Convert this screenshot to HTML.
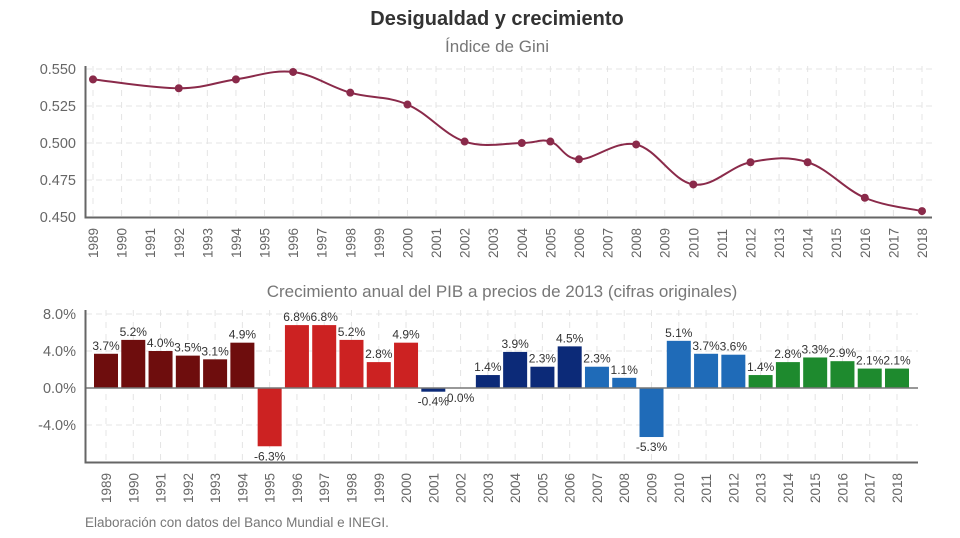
<!DOCTYPE html>
<html><head><meta charset="utf-8">
<style>
html,body{margin:0;padding:0;background:#fff;width:960px;height:538px;overflow:hidden}
svg text{font-family:"Liberation Sans",sans-serif}
</style></head>
<body>
<svg id="c" width="960" height="538">
<text x="497" y="25" text-anchor="middle" font-size="20" font-weight="bold" fill="#333">Desigualdad y crecimiento</text>
<text x="497" y="52" text-anchor="middle" font-size="17" fill="#777">Índice de Gini</text>
<text x="502" y="297" text-anchor="middle" font-size="17" fill="#777">Crecimiento anual del PIB a precios de 2013 (cifras originales)</text>
<text x="85" y="527" font-size="13.5" fill="#777">Elaboración con datos del Banco Mundial e INEGI.</text>
<g id="g1"></g><g id="g2"></g>
</svg>
<script>
const years=[];for(let y=1989;y<=2018;y++)years.push(y);
const giniYears=[1989,1992,1994,1996,1998,2000,2002,2004,2005,2006,2008,2010,2012,2014,2016,2018];
const giniValues=[0.543,0.537,0.543,0.548,0.534,0.526,0.501,0.500,0.501,0.489,0.499,0.472,0.487,0.487,0.463,0.454];
const giniTicks=[0.450,0.475,0.500,0.525,0.550];
const gdpValues=[3.7,5.2,4.0,3.5,3.1,4.9,-6.3,6.8,6.8,5.2,2.8,4.9,-0.4,0.0,1.4,3.9,2.3,4.5,2.3,1.1,-5.3,5.1,3.7,3.6,1.4,2.8,3.3,2.9,2.1,2.1];
const gdpLabels=["3.7%","5.2%","4.0%","3.5%","3.1%","4.9%","-6.3%","6.8%","6.8%","5.2%","2.8%","4.9%","-0.4%","0.0%","1.4%","3.9%","2.3%","4.5%","2.3%","1.1%","-5.3%","5.1%","3.7%","3.6%","1.4%","2.8%","3.3%","2.9%","2.1%","2.1%"];
const gdpTicks=[-4,0,4,8];
const NS="http://www.w3.org/2000/svg";
function mk(p,t,a,txt){const e=document.createElementNS(NS,t);for(const k in a)e.setAttribute(k,a[k]);if(txt!=null)e.textContent=txt;p.appendChild(e);return e;}
const g1=document.getElementById('g1');
const X1=y=>93+(y-1989)*(922-93)/29;
const Y1=v=>217-(v-0.45)*(217-69)/0.1;
for(const t of giniTicks){
 const l=mk(g1,'line',{x1:86,x2:932,y1:Y1(t),y2:Y1(t),stroke:'#e4e4e4','stroke-dasharray':'6,4'});
 
 const tx=mk(g1,'text',{x:76,y:Y1(t)+5,'text-anchor':'end','font-size':14.5,fill:'#666'},t.toFixed(3));
 
}
for(const y of years){
 const l=mk(g1,'line',{x1:X1(y),x2:X1(y),y1:66,y2:217,stroke:'#e4e4e4','stroke-dasharray':'6,6'});
 
 const tx=mk(g1,'text',{transform:`translate(${X1(y)+5},258) rotate(-90)`,'font-size':13.5,fill:'#666'},y);
 
}
const ax1=mk(g1,'path',{d:'M85.5 66V217.5H932',fill:'none',stroke:'#666','stroke-width':2});

const pts=giniYears.map((y,i)=>[X1(y),Y1(giniValues[i])]);
let d=`M${pts[0][0]},${pts[0][1]}`;
for(let i=0;i<pts.length-1;i++){
 const p0=pts[Math.max(0,i-1)],p1=pts[i],p2=pts[i+1],p3=pts[Math.min(pts.length-1,i+2)];
 const t=0.18;
 d+=` C${p1[0]+(p2[0]-p0[0])*t},${p1[1]+(p2[1]-p0[1])*t} ${p2[0]-(p3[0]-p1[0])*t},${p2[1]-(p3[1]-p1[1])*t} ${p2[0]},${p2[1]}`;
}
const ln=mk(g1,'path',{d:d,fill:'none',stroke:'#8a2a4a','stroke-width':2});

pts.forEach(p=>{const c=mk(g1,'circle',{cx:p[0],cy:p[1],r:4,fill:'#8a2a4a'});
 });
const g2=document.getElementById('g2');
const X2=i=>106+i*(897-106)/29;
const Y2=v=>388-v*9.25;
for(const t of gdpTicks){
 const l=mk(g2,'line',{x1:86,x2:918,y1:Y2(t),y2:Y2(t),stroke:'#e4e4e4','stroke-dasharray':'6,4'});
 
 const tx=mk(g2,'text',{x:76,y:Y2(t)+5,'text-anchor':'end','font-size':14.5,fill:'#666'},t.toFixed(1)+'%');
 
}
years.forEach((y,i)=>{
 const l=mk(g2,'line',{x1:X2(i),x2:X2(i),y1:310,y2:462,stroke:'#e4e4e4','stroke-dasharray':'6,6'});
 
});
const colors=i=>i<6?'#6e0d0d':i<12?'#cc2222':i<18?'#0c2a78':i<24?'#1f6bb8':'#1e8a2e';
years.forEach((y,i)=>{
 const v=gdpValues[i],x=X2(i),w=24;
 const top=Math.min(Y2(v),Y2(0)),h=Math.abs(Y2(v)-Y2(0));
 const r=mk(g2,'rect',{x:x-w/2,y:top,width:w,height:Math.max(h,0.01),fill:colors(i)});
 
 const ly=v>0?Y2(v)-4:Y2(v)+14;
 const tx=mk(g2,'text',{x:x,y:ly,'text-anchor':'middle','font-size':12,fill:'#333'},gdpLabels[i]);
 
 const xt=mk(g2,'text',{transform:`translate(${x+5},503) rotate(-90)`,'font-size':13.5,fill:'#666'},y);
 
});
const z=mk(g2,'line',{x1:86,x2:918,y1:Y2(0),y2:Y2(0),stroke:'#777','stroke-width':1.5});

const ax2=mk(g2,'path',{d:'M85.5 310V462.5H918',fill:'none',stroke:'#666','stroke-width':2});

</script>
</body></html>
